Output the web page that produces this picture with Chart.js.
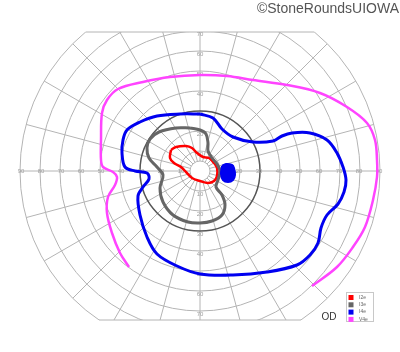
<!DOCTYPE html>
<html>
<head>
<meta charset="utf-8">
<script src="https://cdn.jsdelivr.net/npm/chart.js@4/dist/chart.umd.min.js"></script>
<style>
  body { margin: 0; background: #fff; }
  #wrap { width: 400px; height: 352px; position: relative; }
</style>
</head>
<body>
<div id="wrap"><canvas id="fieldChart"></canvas></div>
<script>
// Goldmann visual field, right eye (OD)
// isopter points are [horizontal deg, vertical deg] of the field
const categories = ['I2e', 'I3e', 'I4e', 'V4e'];
const colors = ['#ff0000', '#666666', '#0000f0', '#ff44ff'];

const isopterI2e = [[-14.5, 10.5], [-12, 12], [-7, 12.5], [-4, 11.5], [-1.5, 9], [1.5, 7], [4.5, 6.5],
  [7, 4], [8.5, 1.5], [8.5, -2.5], [7, -5], [4, -6], [0, -5], [-4, -3.5], [-7, -0.5], [-9.5, 2],
  [-13, 4], [-15, 6.5]];

const isopterI3e = [[-5, 21.5], [0, 20.5], [3, 18.5], [4, 14], [4, 10], [6, 6.5], [8.5, 3.5], [10, 0],
  [9, -4.5], [8, -8], [11, -12], [12.5, -17], [11, -22], [6, -25], [0, -26], [-6, -25.5],
  [-13.5, -22], [-18.5, -15.5], [-20, -8.5], [-18.5, -2], [-21.5, 2], [-25.5, 6.5], [-26.5, 11.5],
  [-25, 16], [-20.5, 19.5], [-12, 21.5]];

const isopterI4e = [[0, 28.5], [6.5, 26.5], [11, 21], [16.5, 17], [26.5, 14.5], [36.5, 15], [41, 17.5],
  [46, 19], [55, 19], [63.5, 15.5], [68.5, 9], [71.5, 2], [73, -4.5], [72, -10.5], [69, -16.5],
  [63.5, -22], [60.5, -28.5], [59, -36], [55, -42], [48.5, -47], [33.5, -50.5], [16.5, -52],
  [0, -51.5], [-11.5, -47.5], [-21.5, -41.5], [-26.5, -33], [-30, -22], [-31, -12.5], [-28.5, -8],
  [-25.5, -4], [-26.5, -1], [-32.5, 0], [-37.5, 2], [-39, 9], [-38.5, 15.5], [-36.5, 20.5],
  [-30, 24.5], [-21.5, 27.5], [-10, 28.5]];

// I4e blind spot (filled)
const blindSpotI4e = [[11, 2.5], [13, 3.5], [16, 3], [17, 1.5], [17.5, -2], [16.5, -4.5], [14, -5.5],
  [11.5, -4.5], [10.5, -1.5]];

// V4e is open (not closed)
const isopterV4e = [[-35.5, -48], [-40, -41], [-44, -31], [-46.5, -21], [-46, -13], [-42.5, -7],
  [-41.5, -3], [-43.5, -0.5], [-48.5, 2], [-49.5, 5.5], [-49.5, 15.5], [-49, 29], [-46.5, 35.5],
  [-41, 41], [-28.5, 44.5], [-15, 47], [0, 48], [13.5, 47.5], [26.5, 45.5], [43.5, 43], [60, 39],
  [73.5, 32], [83.5, 24], [87.5, 15.5], [88.5, 5.5], [88.5, -3], [86.5, -14.5], [82.5, -28],
  [76.5, -38], [68.5, -48], [56, -57.5]];

// grid
const rings = [5, 10, 20, 30, 40, 50, 60, 70, 80, 90];
const spokeAngles = [0, 15, 30, 45, 60, 75, 90, 105, 120, 135, 150, 165, 180, 195, 210, 225, 240, 255, 270, 285, 300, 315, 330, 345];
const horizLabels = [10, 20, 30, 40, 50, 60, 70, 80, 90];
const vertLabels = [10, 20, 30, 40, 50, 60, 70];
const topLimit = 69.5;
const bottomLimit = -74.5;

function toPoints(arr, closed) {
  const pts = arr.map(p => ({ x: p[0], y: p[1] }));
  if (closed) pts.push({ x: arr[0][0], y: arr[0][1] });
  return pts;
}

const gridPlugin = {
  id: 'goldmannGrid',
  beforeDatasetsDraw(chart) {
    const ctx = chart.ctx;
    const xs = chart.scales.x, ys = chart.scales.y;
    const cx = xs.getPixelForValue(0), cy = ys.getPixelForValue(0);
    const k = xs.getPixelForValue(1) - cx;
    const yTop = ys.getPixelForValue(topLimit), yBot = ys.getPixelForValue(bottomLimit);
    const R = 90 * k;

    ctx.save();
    ctx.beginPath();
    ctx.rect(0, yTop, chart.width, yBot - yTop);
    ctx.clip();
    ctx.strokeStyle = '#b4b4b4';
    ctx.lineWidth = 1;
    spokeAngles.forEach(a => {
      const t = a * Math.PI / 180;
      ctx.beginPath();
      ctx.moveTo(cx + 5 * k * Math.cos(t), cy - 5 * k * Math.sin(t));
      ctx.lineTo(cx + R * Math.cos(t), cy - R * Math.sin(t));
      ctx.stroke();
    });
    rings.forEach(r => {
      ctx.beginPath();
      ctx.arc(cx, cy, r * k, 0, Math.PI * 2);
      if (r === 30) {
        ctx.strokeStyle = '#555';
        ctx.lineWidth = 1.5;
      } else {
        ctx.strokeStyle = '#b4b4b4';
        ctx.lineWidth = 1;
      }
      ctx.stroke();
    });
    ctx.restore();

    // top / bottom chords
    ctx.save();
    ctx.strokeStyle = '#b4b4b4';
    ctx.lineWidth = 1;
    [yTop, yBot].forEach(y => {
      const dy = y - cy;
      const dx = Math.sqrt(R * R - dy * dy);
      ctx.beginPath();
      ctx.moveTo(cx - dx, y);
      ctx.lineTo(cx + dx, y);
      ctx.stroke();
    });

    // ring labels
    ctx.fillStyle = '#a0a0a0';
    ctx.font = '6px "Liberation Sans", Arial';
    ctx.textAlign = 'center';
    ctx.textBaseline = 'middle';
    horizLabels.forEach(v => {
      ctx.fillText(String(v), xs.getPixelForValue(-v) + 1, cy);
      ctx.fillText(String(v), xs.getPixelForValue(v) - 1, cy);
    });
    vertLabels.forEach(v => {
      ctx.fillText(String(v), cx, ys.getPixelForValue(v) + 3);
      ctx.fillText(String(v), cx, ys.getPixelForValue(-v) + 3);
    });
    ctx.restore();
  },
  afterDraw(chart) {
    const ctx = chart.ctx;
    ctx.save();
    // legend box
    const bx = 346, by = 292, bw = 27, bh = 29;
    ctx.fillStyle = '#fff';
    ctx.fillRect(bx, by, bw, bh);
    ctx.strokeStyle = '#c8c8c8';
    ctx.lineWidth = 1;
    ctx.strokeRect(bx + 0.5, by + 0.5, bw, bh);
    ctx.font = '5px "Liberation Sans", Arial';
    ctx.textAlign = 'left';
    ctx.textBaseline = 'middle';
    categories.forEach((c, i) => {
      const y = by + 3.5 + i * 7.3;
      ctx.fillStyle = colors[i];
      ctx.fillRect(bx + 2.5, y - 0.5, 5, 5);
      ctx.fillStyle = '#666';
      ctx.fillText(c, bx + 13, y + 2);
    });
    // eye label
    ctx.fillStyle = '#333';
    ctx.font = '10px "Liberation Sans", Arial';
    ctx.textAlign = 'center';
    ctx.fillText('OD', 329, 317);
    // credit
    ctx.fillStyle = '#555';
    ctx.font = '14px "Liberation Sans", Arial';
    ctx.textAlign = 'right';
    ctx.fillText('\u00A9StoneRoundsUIOWA', 399, 9);
    ctx.restore();
  }
};

const lineDs = (label, arr, color, closed, width) => ({
  label: label,
  data: toPoints(arr, closed),
  showLine: true,
  borderColor: color,
  backgroundColor: color,
  borderWidth: width,
  pointRadius: 0,
  tension: 0.35,
  fill: false
});

const datasets = [
  lineDs(categories[3], isopterV4e, colors[3], false, 2.5),
  lineDs(categories[2], isopterI4e, colors[2], true, 3),
  Object.assign(lineDs('I4e blind spot', blindSpotI4e, colors[2], true, 2), { fill: 'shape' }),
  lineDs(categories[1], isopterI3e, colors[1], true, 3),
  lineDs(categories[0], isopterI2e, colors[0], true, 2.5)
];

const ctx = document.getElementById('fieldChart').getContext('2d');
const fieldChart = new Chart(ctx, {
  type: 'scatter',
  data: { datasets: datasets },
  options: {
    responsive: true,
    maintainAspectRatio: false,
    animation: false,
    layout: { padding: 0 },
    scales: {
      x: { type: 'linear', min: -100, max: 100, display: false },
      y: { type: 'linear', min: -90.5, max: 85.5, display: false }
    },
    plugins: {
      legend: { display: false },
      tooltip: { enabled: false }
    }
  },
  plugins: [gridPlugin]
});
</script>
</body>
</html>
